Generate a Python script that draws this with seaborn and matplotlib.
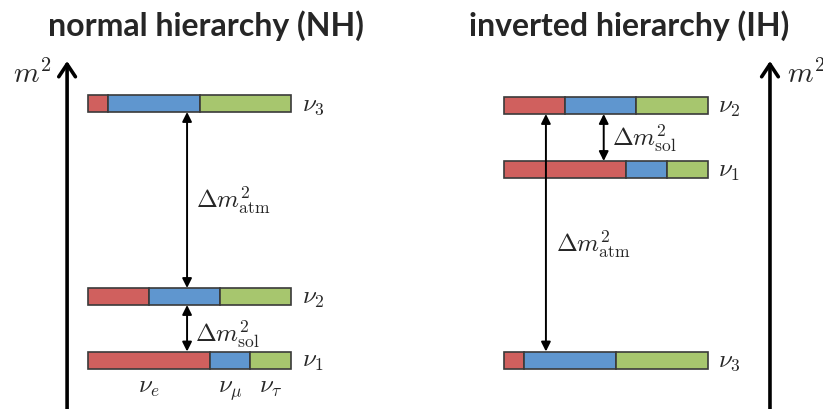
import matplotlib
matplotlib.use("Agg")
import matplotlib.pyplot as plt
import seaborn as sns
import numpy as np

sns.set_theme(style="white")
plt.rcParams['font.family'] = ['Lato', 'DejaVu Sans']
plt.rcParams['mathtext.fontset'] = 'cm'

# flavour content of each mass state (nu_e, nu_mu, nu_tau)
flavours = [r'$\nu_e$', r'$\nu_\mu$', r'$\nu_\tau$']
flavour_colors = ['#D0605E', '#5F96CF', '#A7C66E']
states = ['nu1', 'nu2', 'nu3']
state_labels = [r'$\nu_1$', r'$\nu_2$', r'$\nu_3$']
frac_e = [0.60, 0.30, 0.10]
frac_mu = [0.20, 0.35, 0.45]
frac_tau = [0.20, 0.35, 0.45]

# mass-squared levels (arbitrary units)
nh_levels = [0.0, 0.635, 2.565]
ih_levels = [1.905, 2.545, 0.0]

titles = ['normal hierarchy (NH)', 'inverted hierarchy (IH)']

fig = plt.figure(figsize=(8.23, 4.10), dpi=100)
axL = fig.add_axes([0, 0, 0.5, 1])
axR = fig.add_axes([0.5, 0, 0.5, 1])

BAR_H = 0.17
fracs = np.array([frac_e, frac_mu, frac_tau]).T  # rows: states


def draw_bars(ax, levels):
    for i, lev in enumerate(levels):
        left = 0.0
        for j in range(3):
            ax.barh(lev, fracs[i, j], left=left, height=BAR_H,
                    color=flavour_colors[j], edgecolor='#3a3a3a', linewidth=1.2)
            left += fracs[i, j]
        ax.text(1.052, lev - 0.06, state_labels[i], fontsize=18,
                ha='left', va='baseline')


def darrow(ax, x, y0, y1):
    ax.annotate('', xy=(x, y1), xytext=(x, y0),
                arrowprops=dict(arrowstyle='<|-|>', color='black', lw=1.4,
                                mutation_scale=14, shrinkA=0, shrinkB=0))


def axis_arrow(ax, x):
    ax.annotate('', xy=(x, 2.99), xytext=(x, -0.7),
                arrowprops=dict(arrowstyle='->,head_length=0.45,head_width=0.3',
                                color='black', lw=2.6, mutation_scale=20,
                                shrinkA=0, shrinkB=0))


# ---- NH panel
axL.set_xlim(-88 / 203, 323.5 / 203)
axL.set_ylim(-0.49, 3.61)
draw_bars(axL, nh_levels)
h = BAR_H / 2
darrow(axL, 0.488, nh_levels[1] + h, nh_levels[2] - h)
darrow(axL, 0.488, nh_levels[0] + h, nh_levels[1] - h)
axL.text(0.532, 1.52, r'$\Delta m^2_{\rm atm}$', fontsize=18, ha='left', va='baseline')
axL.text(0.527, 0.18, r'$\Delta m^2_{\rm sol}$', fontsize=18, ha='left', va='baseline')
axis_arrow(axL, -0.103)
axL.text(-0.369, 2.78, r'$m^2$', fontsize=21, ha='left', va='baseline')
cum = np.concatenate([[0], np.cumsum(fracs[0])])
for j in range(3):
    axL.text((cum[j] + cum[j + 1]) / 2, -0.32, flavours[j], fontsize=18,
             ha='center', va='baseline')
axL.text((206 - 88) / 203, 3.35, titles[0], fontsize=23, fontweight='bold',
         ha='center', va='center')

# ---- IH panel
axR.set_xlim(-92.5 / 203.5, 319 / 203.5)
axR.set_ylim(-0.49, 3.61)
draw_bars(axR, ih_levels)
darrow(axR, 0.206, ih_levels[2] + h, ih_levels[1] - h)
darrow(axR, 0.49, ih_levels[0] + h, ih_levels[1] - h)
axR.text(0.529, 2.143, r'$\Delta m^2_{\rm sol}$', fontsize=18, ha='left', va='baseline')
axR.text(0.256, 1.08, r'$\Delta m^2_{\rm atm}$', fontsize=18, ha='left', va='baseline')
axis_arrow(axR, 1.307)
axR.text(1.391, 2.78, r'$m^2$', fontsize=21, ha='left', va='baseline')
axR.text((629 - 504) / 203.5, 3.35, titles[1], fontsize=23, fontweight='bold',
         ha='center', va='center')

for ax in (axL, axR):
    ax.set_axis_off()

fig.savefig('out.png', dpi=100)
